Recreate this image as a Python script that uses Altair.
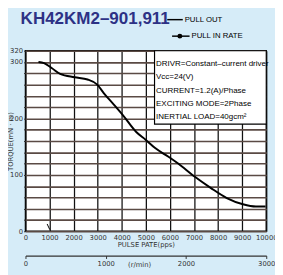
import altair as alt
import pandas as pd

# Pull-out torque curve
pps = [540, 770, 1100, 1440, 2040, 2580, 2980, 3250, 3660, 4060, 4600, 5000,
       5400, 5940, 6340, 7020, 7690, 8360, 9030, 9570, 9970]
torque = [300, 298, 289, 279, 273, 269, 260, 245, 225, 205, 176, 162,
          147, 132, 120, 97, 77, 59, 48, 44, 44]

# short pull-in mark near 1000 pps
pullin_pps = [900, 1010]
pullin_torque = [13, 3]

# annotation box bounds (data units)
box_pps = [5360, 10000]
box_torque = [190, 320]
box_lines = ["DRIVR=Constant\u2013current driver", "Vcc=24(V)",
             "CURRENT=1.2(A)/Phase", "EXCITING MODE=2Phase",
             "INERTIAL LOAD=40gcm\u00b2"]

x_ticks = list(range(0, 10001, 1000))
y_ticks = list(range(0, 321, 20))
rpm_ticks = [0, 1000, 2000, 3000]

title_text = "KH42KM2\u2013901,911"
legend_labels = ["PULL OUT", "PULL IN RATE"]

FONT = "Liberation Sans"

xscale = alt.Scale(domain=[0, 10000], nice=False, zero=False)
yscale = alt.Scale(domain=[0, 320], nice=False)

xaxis = alt.Axis(values=x_ticks, grid=True, gridColor="#111111", gridWidth=1.3,
                 ticks=False, domain=False, format="d", labelFontSize=7,
                 labelFont="DejaVu Sans", labelColor="#333", labelPadding=2,
                 title="PULSE PATE(pps)", titleFontSize=7, titleFont="DejaVu Sans",
                 titleColor="#333", titleFontWeight="normal", titlePadding=1,
                 labelFlush=False)
yaxis = alt.Axis(values=y_ticks, grid=True, gridColor="#5a4a44", gridWidth=1.6,
                 ticks=True, tickSize=2, tickColor="#333", domain=False, format="d",
                 labelExpr="indexof([0,100,200,300,320], datum.value) >= 0 ? datum.label : ''",
                 labelFontSize=7, labelFont="DejaVu Sans", labelColor="#333",
                 labelPadding=1, title="TORQUE(mN \u00b7 m)", titleFontSize=7,
                 titleFont="DejaVu Sans", titleColor="#333", titleFontWeight="normal",
                 titleX=-15, titleBaseline="middle", titleAngle=270)

curve_df = pd.DataFrame({"pps": pps, "torque": torque})
pullin_df = pd.DataFrame({"pps": pullin_pps, "torque": pullin_torque})
box_df = pd.DataFrame({"x1": [box_pps[0]], "x2": [box_pps[1]],
                       "y1": [box_torque[0]], "y2": [box_torque[1]]})

base_line = alt.Chart(curve_df).mark_line(color="black", strokeWidth=2,
                                          interpolate="monotone").encode(
    x=alt.X("pps:Q", scale=xscale, axis=xaxis),
    y=alt.Y("torque:Q", scale=yscale, axis=yaxis),
)

pullin = alt.Chart(pullin_df).mark_line(color="black", strokeWidth=1).encode(
    x=alt.X("pps:Q", scale=xscale, axis=xaxis),
    y=alt.Y("torque:Q", scale=yscale, axis=yaxis),
)

box = alt.Chart(box_df).mark_rect(fill="white", stroke="black", strokeWidth=1.2).encode(
    x=alt.X("x1:Q", scale=xscale, axis=xaxis),
    x2="x2:Q",
    y=alt.Y("y1:Q", scale=yscale, axis=yaxis),
    y2="y2:Q",
)

text_layers = []
baselines = [15.5, 29, 43.5, 56.5, 70]
for line, yb in zip(box_lines, baselines):
    text_layers.append(
        alt.Chart(pd.DataFrame({"t": [line]})).mark_text(
            align="left", baseline="alphabetic", font=FONT, fontSize=8.2,
            color="black").encode(x=alt.value(134.5), y=alt.value(yb), text="t:N"))

title = alt.Chart(pd.DataFrame({"t": [title_text]})).mark_text(
    align="left", baseline="alphabetic", font=FONT, fontSize=17.5, fontWeight="bold",
    color="#2d3185").encode(x=alt.value(-5), y=alt.value(-28), text="t:N")

leg1_line = alt.Chart(pd.DataFrame({"a": [0]})).mark_rule(color="black", strokeWidth=1.5).encode(
    x=alt.value(146), x2=alt.value(162), y=alt.value(-32))
leg1_text = alt.Chart(pd.DataFrame({"t": [legend_labels[0]]})).mark_text(
    align="left", baseline="middle", font=FONT, fontSize=8, color="black").encode(
    x=alt.value(164), y=alt.value(-32), text="t:N")
leg2_line = alt.Chart(pd.DataFrame({"a": [0]})).mark_rule(color="black", strokeWidth=1.5).encode(
    x=alt.value(151), x2=alt.value(169), y=alt.value(-15))
leg2_dot = alt.Chart(pd.DataFrame({"a": [0]})).mark_point(
    filled=True, color="black", size=25, opacity=1).encode(x=alt.value(159), y=alt.value(-15))
leg2_text = alt.Chart(pd.DataFrame({"t": [legend_labels[1]]})).mark_text(
    align="left", baseline="middle", font=FONT, fontSize=8, color="black").encode(
    x=alt.value(171), y=alt.value(-15), text="t:N")

inner = alt.layer(box, base_line, pullin, *text_layers, title,
                  leg1_line, leg1_text, leg2_line, leg2_dot, leg2_text)

rpm_layer = alt.Chart(pd.DataFrame({"rpm": rpm_ticks})).mark_point(opacity=0).encode(
    x=alt.X("rpm:Q", scale=alt.Scale(domain=[0, 3000], nice=False),
            axis=alt.Axis(orient="bottom", offset=25, values=rpm_ticks, grid=False,
                          format="d", domainColor="#333", domainWidth=1.2,
                          tickColor="#333", tickSize=3, labelFontSize=7,
                          labelFont="DejaVu Sans", labelColor="#333", labelPadding=1,
                          labelFlush=False, title="(r/min)", titleFontSize=7,
                          titleFont="DejaVu Sans", titleColor="#333",
                          titleFontWeight="normal", titleX=117, titleY=11,
                          titleBaseline="alphabetic")),
)

chart = alt.layer(inner, rpm_layer).resolve_scale(x="independent").properties(
    width=248, height=186,
    autosize=alt.AutoSizeParams(type="none"),
    padding={"left": 18, "top": 40, "right": 9, "bottom": 41},
    background="#d6ecf8",
).configure_view(fill="white", stroke="black", strokeWidth=1.5)

chart.save("out.html", embed_options={"renderer": "svg", "actions": False})
